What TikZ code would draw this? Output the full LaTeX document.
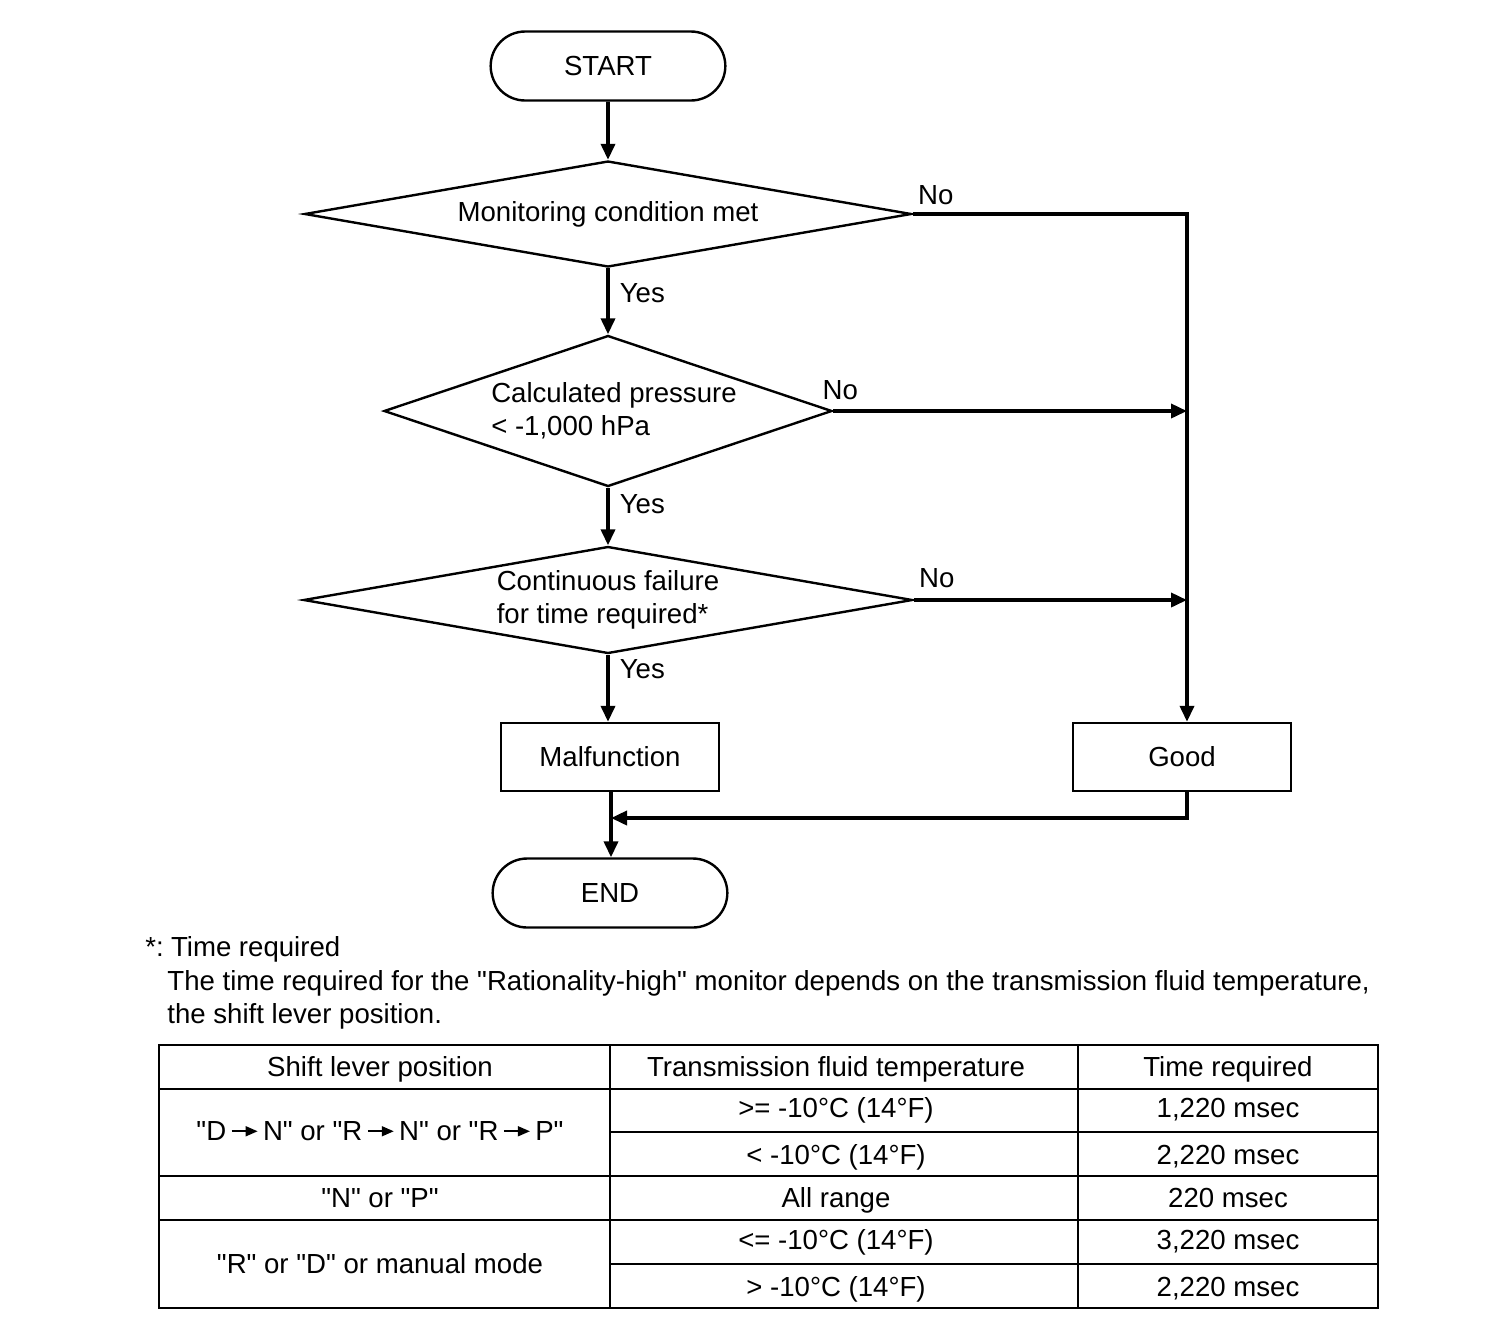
\documentclass[tikz,border=0pt]{standalone}
\usepackage{fontspec}
\setmainfont{Liberation Sans}[Ligatures=TeXOff]
\usetikzlibrary{shapes.geometric, shapes.misc, arrows.meta, positioning, calc}
\tikzset{
  term/.style={
    rounded rectangle, draw, line width=1.2pt,
    minimum width=124pt, minimum height=34.5pt
  },
  decision/.style={
    diamond, draw, line width=1.2pt, inner sep=0pt, align=left
  },
  proc/.style={
    rectangle, draw, line width=1.2pt,
    minimum width=109pt, minimum height=34pt
  },
  arr/.style={-{Triangle[length=8pt,width=7pt]}, line width=1.8pt},
  ln/.style={line width=1.8pt},
  lbl/.style={inner sep=0pt}
}
\newcommand{\leverarrow}{\,\tikz[baseline=-0.6ex]\draw[-{Triangle[length=6pt,width=5pt]}, line width=0.8pt] (0pt,0pt) -- (13pt,0pt);\,}

\begin{document}
\begin{tikzpicture}[x=0.5pt, y=-0.5pt, font=\fontsize{13.8}{16.5}\selectfont,
  grid/.style={line width=1.2pt},
  thin/.style={line width=0.6pt},
  cell/.style={text height=12pt, text depth=3pt, inner sep=0pt}]
  \useasboundingbox (0,0) rectangle (1504,1330);

  % flow chart
  \node[term] (start) at (608,66) {START};
  \node[decision, minimum width=303.5pt, minimum height=53pt, shape aspect=5.73] (mon) at (608,214) {Monitoring condition met};
  \node[decision, minimum width=224pt, minimum height=75.5pt, shape aspect=2.97] (calc) at (608,411) {\hspace*{6pt}Calculated pressure\\\hspace*{6pt}< -1,000 hPa};
  \node[decision, minimum width=304.5pt, minimum height=53.5pt, shape aspect=5.69] (cont) at (608,600) {Continuous failure\\for time required*};
  \node[proc] (mal) at (610,757) {Malfunction};
  \node[proc] (good) at (1182,757) {Good};
  \node[term] (end) at (610,893) {END};

  \coordinate (rail) at (1187,214);
  \coordinate (merge) at (611,818);

  \draw[arr] (start) -- (mon);
  \draw[arr] (mon) -- node[lbl, pos=0.38, right=5pt] {Yes} (calc);
  \draw[arr] (calc) -- node[lbl, pos=0.28, right=5pt] {Yes} (cont);
  \draw[arr] (cont) -- node[lbl, pos=0.22, right=5pt] {Yes} (cont.south |- mal.north);

  \draw[arr] (mon.east) -- (rail) -- (rail |- good.north);
  \draw[arr] (calc.east) -- (calc.east -| rail);
  \draw[arr] (cont.east) -- (cont.east -| rail);
  \node[lbl, anchor=south west] (no1) at ($(mon.east)+(5,-9)$) {No};
  \node[lbl, anchor=south west] (no2) at ($(calc.east)+(-11,-11)$) {No};
  \node[lbl, anchor=south west] (no3) at ($(cont.east)+(5,-12)$) {No};

  \draw[arr] (mal.south -| merge) -- (end.north -| merge);
  \draw[arr] (rail |- good.south) |- (merge);

  % note
  \node[lbl, anchor=west] (star) at (145,949) {*:\hspace{-1.5pt} Time required};
  \node[lbl, anchor=west] (note1) at (167,983) {The time required for the "Rationality-high" monitor depends on the transmission fluid temperature,};
  \node[lbl, anchor=west] (note2) at (167,1016) {the shift lever position.};

  % table
  \draw[grid] (159,1045) rectangle (1378,1308);
  \foreach \y in {1089,1176,1220}
    \draw[grid] (159,\y) -- (1378,\y);
  \foreach \y in {1132,1264}
    \draw[thin] (610,\y) -- (1378,\y);
  \foreach \x in {610,1078}
    \draw[grid] (\x,1045) -- (\x,1308);

  \node[cell] (hpos)  at (380,1067) {Shift lever position};
  \node[cell] (htemp) at (836,1067) {Transmission fluid temperature};
  \node[cell] (htime) at (1228,1067) {Time required};

  \node[cell] (pos1) at (380,1131) {"D\leverarrow N" or "R\leverarrow N" or "R\leverarrow P"};
  \node[cell] (pos2) at (380,1198) {"N" or "P"};
  \node[cell] (pos3) at (380,1264) {"R" or "D" or manual mode};

  \foreach \y/\t/\m in {1108/{>= -10°C (14°F)}/{1,220 msec},
                        1155/{< -10°C (14°F)}/{2,220 msec},
                        1198/{All range}/{220 msec},
                        1240/{<= -10°C (14°F)}/{3,220 msec},
                        1287/{> -10°C (14°F)}/{2,220 msec}}{
    \node[cell] (temp\y) at (836,\y) {\t};
    \node[cell] (time\y) at (1228,\y) {\m};
  }
\end{tikzpicture}
\end{document}
